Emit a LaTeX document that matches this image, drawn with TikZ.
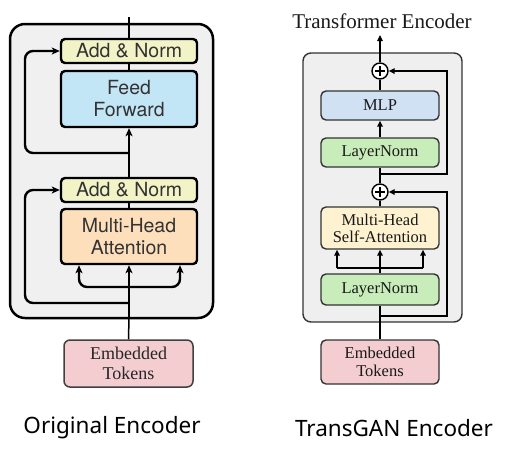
\documentclass[tikz,border=0pt]{standalone}
\usepackage{fontspec}
\setmainfont{Liberation Serif}
\newfontfamily\helv{TeX Gyre Heros}
\newfontfamily\capfont{Noto Sans}
\usetikzlibrary{arrows.meta}
\definecolor{outerL}{HTML}{F0F0F0}
\definecolor{addnorm}{HTML}{F2F3C6}
\definecolor{ffblue}{HTML}{C3E6F6}
\definecolor{mhapeach}{HTML}{FDDFBC}
\definecolor{embpink}{HTML}{F3CDD0}
\definecolor{mlpblue}{HTML}{D0E1F4}
\definecolor{lngreen}{HTML}{C8EDBA}
\definecolor{mhsay}{HTML}{FEF2D0}
\definecolor{outerR}{HTML}{EFEFEF}
\definecolor{edgeR}{HTML}{333333}
\tikzset{
  lbox/.style={draw=black, line width=2.4pt, rounded corners=4pt, inner sep=0pt, align=center,
    font=\helv\fontsize{19.5}{21}\selectfont, text=black!80},
  rbox/.style={draw=edgeR, line width=1.4pt, rounded corners=5pt, inner sep=0pt, align=center,
    minimum width=118pt, font=\fontsize{16.5}{17}\selectfont, text=black!90},
  lline/.style={line width=2.4pt, rounded corners=8pt},
  larrow/.style={lline, -{Stealth[length=8pt,width=7pt,inset=2pt]}},
  rline/.style={line width=1.5pt, draw=black},
  rarrow/.style={rline, -{Triangle[length=6pt,width=5.5pt]}},
  plusc/.style={circle, draw=black, line width=1.4pt, fill=white, minimum size=16pt, inner sep=0pt,
    path picture={\draw[line width=1.3pt] ([xshift=-5pt]path picture bounding box.center) -- ([xshift=5pt]path picture bounding box.center);
                  \draw[line width=1.3pt] ([yshift=-5pt]path picture bounding box.center) -- ([yshift=5pt]path picture bounding box.center);}},
  caption/.style={font=\capfont\fontsize{22.5}{24}\selectfont, text=black}
}
\begin{document}
\begin{tikzpicture}[x=1pt,y=-1pt]
\useasboundingbox (0,0) rectangle (519,456);
% ---------------- Left: Original Encoder ----------------
\draw[fill=outerL, line width=2.5pt, rounded corners=15pt] (10,24) rectangle (213,318);
\node[lbox, fill=addnorm, minimum width=136pt, minimum height=24pt] (an1) at (129,51) {Add \& Norm};
\node[lbox, fill=ffblue, minimum width=136pt, minimum height=56pt] (ff) at (129,99) {Feed\\[1pt]Forward};
\node[lbox, fill=addnorm, minimum width=136pt, minimum height=24pt] (an2) at (129,190) {Add \& Norm};
\node[lbox, fill=mhapeach, minimum width=136pt, minimum height=55pt] (mha) at (129,236.5) {Multi-Head\\[1pt]Attention};
\node[draw=black!75, line width=1.5pt, rounded corners=6pt, fill=embpink, minimum width=129pt, minimum height=47pt,
      inner sep=0pt, align=center, font=\fontsize{18}{20}\selectfont, text=black!85] (emb1) at (128.5,363.5) {Embedded\\Tokens};
\coordinate (ltop) at (129,17);
\coordinate (lr1) at (129,153);
\coordinate (lr2) at (129,303);
\coordinate (lbr) at (129,287);
\coordinate (lboxb) at (129,318);
\coordinate (lleft1) at (25,153);
\coordinate (lleft2) at (25,303);
\draw[lline] (an1.north) -- (ltop);
\draw[lline] (an1.south) -- (ff.north);
\draw[larrow, rounded corners=0pt] (an2.north) -- (ff.south);
\draw[larrow] (lr1) -- (lleft1) |- (an1.west);
\draw[lline] (an2.south) -- (mha.north);
\draw[line width=1.5pt] (emb1.north) -- (lboxb);
\draw[larrow, rounded corners=0pt] (lboxb) -- (mha.south);
\draw[larrow] (lr2) -- (lleft2) |- (an2.west);
\draw[larrow] (lbr) -| ([xshift=-50pt]mha.south);
\draw[larrow] (lbr) -| ([xshift=51pt]mha.south);
% ---------------- Right: TransGAN Encoder ----------------
\draw[fill=outerR, draw=edgeR, line width=1.4pt, rounded corners=8pt] (303,53) rectangle (462,322);
\node[font=\fontsize{21}{22}\selectfont, text=black!90] (title) at (382,21) {Transformer Encoder};
\node[plusc] (c1) at (380,71) {};
\node[rbox, fill=mlpblue, minimum height=29pt] (mlp) at (380,105.5) {MLP};
\node[rbox, fill=lngreen, minimum height=29pt] (ln1) at (380,152.5) {LayerNorm};
\node[plusc] (c2) at (380,192) {};
\node[rbox, fill=mhsay, minimum height=42pt, font=\fontsize{16.5}{17}\selectfont] (mhsa) at (380,228) {Multi-Head\\Self-Attention};
\node[rbox, fill=lngreen, minimum height=31pt] (ln2) at (380,289.5) {LayerNorm};
\node[rbox, fill=embpink, minimum height=44pt, font=\fontsize{16.5}{18}\selectfont] (emb2) at (380,362) {Embedded\\Tokens};
\coordinate (rtop) at (380,35);
\coordinate (rr1) at (380,174);
\coordinate (rr2) at (380,316);
\coordinate (rbl) at (337,268);
\coordinate (rbr) at (423,268);
\coordinate (rright1) at (447,174);
\coordinate (rright2) at (447,316);
\draw[rarrow] (c1.north) -- (rtop);
\draw[rline] (mlp.north) -- (c1.south);
\draw[rarrow] (ln1.north) -- (mlp.south);
\draw[rline] (c2.north) -- (ln1.south);
\draw[rarrow] (rr1) -- (rright1) |- (c1.east);
\draw[rline] (mhsa.north) -- (c2.south);
\draw[rarrow] (rr2) -- (rright2) |- (c2.east);
\draw[rline] (emb2.north) -- (ln2.south);
\draw[rarrow] (ln2.north) -- (mhsa.south);
\draw[rline] (rbl) -- (rbr);
\draw[rarrow] (rbl) -- (rbl |- mhsa.south);
\draw[rarrow] (rbr) -- (rbr |- mhsa.south);
% ---------------- Captions ----------------
\node[caption] (cap1) at (112,428) {Original Encoder};
\node[caption] (cap2) at (394,428) {TransGAN Encoder};
\end{tikzpicture}
\end{document}
